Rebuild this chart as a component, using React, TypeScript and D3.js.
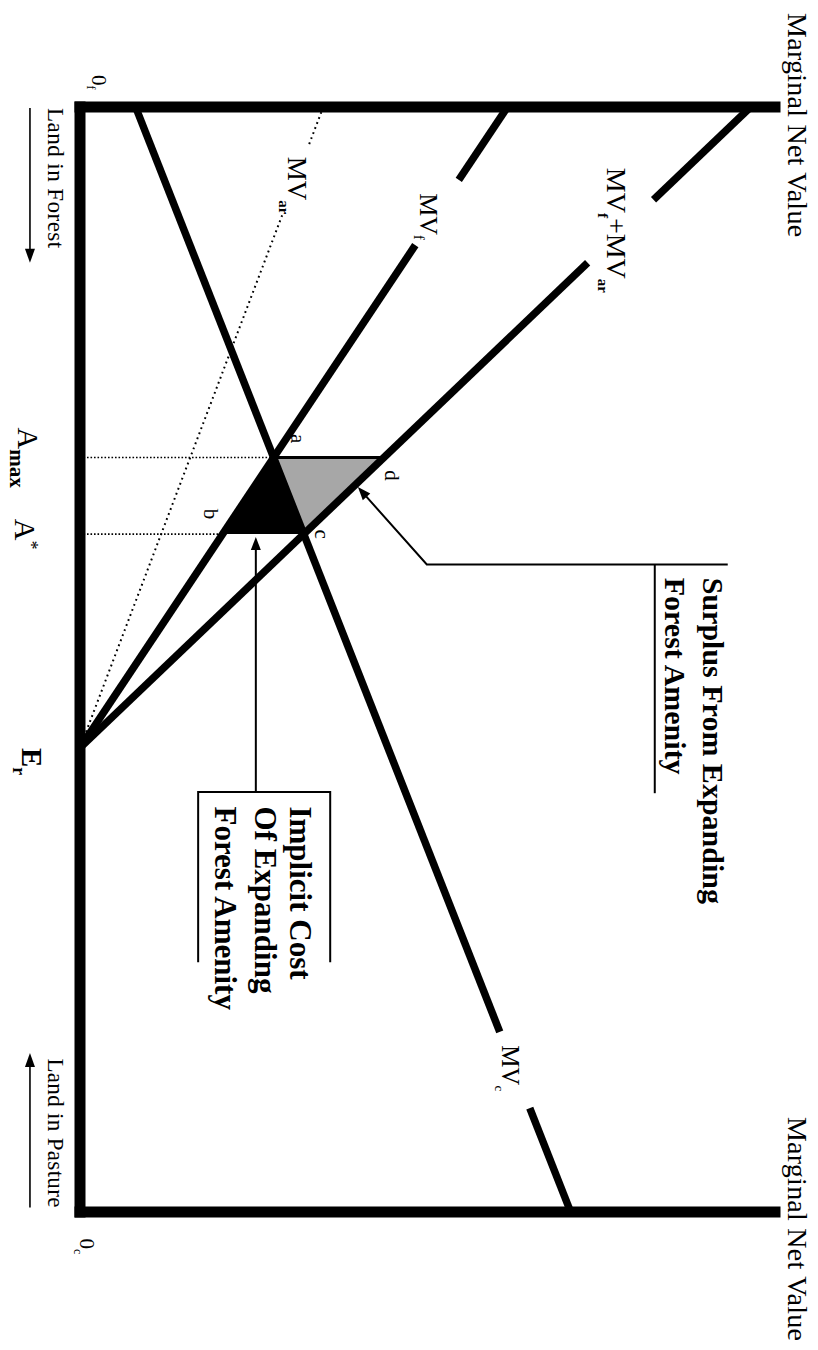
import React, { useEffect, useRef } from 'react'
import * as d3 from 'd3'

const W = 818
const H = 1350

// land runs from 0 (all in forest) to 100 (all in pasture), value is marginal net value
const landDomain = [0, 100]
const valueDomain = [0, 100]

// each curve as two end points [land, value]
const mvC = [[0, 8], [100, 70.6]]
const mvF = [[0, 61.5], [58, 0]]
const mvAr = [[0, 35], [58, 0]]
const mvSum = [[0, 96.5], [58, 0]]

// breaks left in the curves where their labels sit
const gapC = [83.7, 90.6]
const gapF = [6.6, 12.5]
const gapSum = [8.4, 14.1]
const gapAr = [3.6, 9.8]

// where the surplus arrow touches MVf+MVar
const surplusArrowLand = 34.4

const surplusLines = ['Surplus From Expanding', 'Forest Amenity']
const costLines = ['Implicit Cost', 'Of Expanding', 'Forest Amenity']

const SERIF = '"Liberation Serif", "Times New Roman", serif'

type Pt = [number, number]

function valAt(line: number[][], lx: number) {
  const [[x0, y0], [x1, y1]] = line
  return y0 + (y1 - y0) * (lx - x0) / (x1 - x0)
}

function crossing(l1: number[][], l2: number[][]) {
  // both lines are straight, so solve for the land value where they meet
  const s1 = (l1[1][1] - l1[0][1]) / (l1[1][0] - l1[0][0])
  const s2 = (l2[1][1] - l2[0][1]) / (l2[1][0] - l2[0][0])
  const b1 = l1[0][1] - s1 * l1[0][0]
  const b2 = l2[0][1] - s2 * l2[0][0]
  return (b2 - b1) / (s1 - s2)
}

export default function App() {
  const ref = useRef<SVGSVGElement>(null)

  useEffect(() => {
    const node = ref.current
    if (!node) return
    const svg = d3.select(node)
    svg.selectAll('*').remove()

    svg.append('rect').attr('width', W).attr('height', H).attr('fill', '#fff')

    // the figure is drawn upright, then turned a quarter turn clockwise like the scan
    const g = svg.append('g')
      .attr('transform', `translate(${W},0) rotate(90)`)
      .style('font-family', SERIF)

    const x = d3.scaleLinear().domain(landDomain).range([107, 1212])
    const y = d3.scaleLinear().domain(valueDomain).range([738, 43])

    const line = d3.line<Pt>().x(d => x(d[0])).y(d => y(d[1]))

    const pieces = (l: number[][], gap: number[]) => {
      const a = l[0][0], b = l[1][0]
      return [[a, gap[0]], [gap[1], b]].map(([s, e]) => [[s, valAt(l, s)], [e, valAt(l, e)]] as Pt[])
    }

    const aX = crossing(mvC, mvF)
    const cX = crossing(mvC, mvSum)
    const pa: Pt = [aX, valAt(mvF, aX)]
    const pb: Pt = [cX, valAt(mvF, cX)]
    const pc: Pt = [cX, valAt(mvSum, cX)]
    const pd: Pt = [aX, valAt(mvSum, aX)]
    const px = (p: Pt) => [x(p[0]), y(p[1])]

    // shaded areas
    g.append('path')
      .attr('d', 'M' + [pa, pd, pc].map(px).join('L') + 'Z')
      .attr('fill', '#a7a7a7')
    g.append('path')
      .attr('d', 'M' + [pa, pb, pc].map(px).join('L') + 'Z')
      .attr('fill', '#000')
    g.append('line')
      .attr('x1', x(pa[0])).attr('y1', y(pa[1]))
      .attr('x2', x(pd[0])).attr('y2', y(pd[1]))
      .attr('stroke', '#000').attr('stroke-width', 3)

    // dotted guides down to the land axis
    ;[pa, pb].forEach(p => {
      g.append('line')
        .attr('x1', x(p[0])).attr('y1', y(0))
        .attr('x2', x(p[0])).attr('y2', y(p[1]))
        .attr('stroke', '#000').attr('stroke-width', 1.6)
        .attr('stroke-dasharray', '1.6 1.9')
    })

    // MVar dotted
    pieces(mvAr, gapAr).forEach(seg => {
      g.append('path').attr('d', line(seg))
        .attr('fill', 'none').attr('stroke', '#000')
        .attr('stroke-width', 2).attr('stroke-dasharray', '1.8 3.6')
    })

    // heavy curves
    ;[[mvC, gapC], [mvF, gapF], [mvSum, gapSum]].forEach(([l, gap]) => {
      pieces(l, gap).forEach(seg => {
        g.append('path').attr('d', line(seg))
          .attr('fill', 'none').attr('stroke', '#000').attr('stroke-width', 7.5)
      })
    })

    // frame: land axis and the two value axes
    const axis = (x1: number, y1: number, x2: number, y2: number) =>
      g.append('line').attr('x1', x1).attr('y1', y1).attr('x2', x2).attr('y2', y2)
        .attr('stroke', '#000').attr('stroke-width', 11).attr('stroke-linecap', 'square')
    axis(x(0), y(0), x(100), y(0))
    axis(x(0), y(0), x(0), y(100))
    axis(x(100), y(0), x(100), y(100))

    const arrowHead = (tip: number[], from: number[], len = 13, wid = 5) => {
      const dx = tip[0] - from[0], dy = tip[1] - from[1]
      const n = Math.hypot(dx, dy)
      const ux = dx / n, uy = dy / n
      const bx = tip[0] - ux * len, by = tip[1] - uy * len
      g.append('path')
        .attr('d', `M${tip[0]},${tip[1]}L${bx - uy * wid},${by + ux * wid}L${bx + uy * wid},${by - ux * wid}Z`)
        .attr('fill', '#000')
    }
    const thin = (pts: number[][], w = 2) =>
      g.append('path').attr('d', 'M' + pts.map(p => p.join(',')).join('L'))
        .attr('fill', 'none').attr('stroke', '#000').attr('stroke-width', w)

    // text helper: parts are [text, size, dy, bold]
    const label = (tx: number, ty: number, parts: [string, number, number, boolean][], anchor = 'start') => {
      const t = g.append('text').attr('x', tx).attr('y', ty).attr('text-anchor', anchor).attr('fill', '#000')
      parts.forEach(([s, size, dy, bold]) => {
        t.append('tspan').attr('dy', dy).attr('font-size', size)
          .attr('font-weight', bold ? 'bold' : 'normal').text(s)
      })
      return t
    }

    // origins
    label(x(-2.9), y(1.7), [['0', 21, 0, false], ['f', 12, 5, false]])
    label(x(102.4), y(0), [['0', 21, 0, false], ['c', 12, 6, false]])

    // direction arrows along the land axis
    label(x(0.1), y(-4.6), [['Land in Forest', 23, 0, false]]).attr('textLength', 140)
    thin([[x(0.1), y(-7.2)], [x(14.1) - 10, y(-7.2)]], 1.6)
    arrowHead([x(14.1), y(-7.2)], [x(0), y(-7.2)], 14, 5)
    label(x(86.1), y(-4.6), [['Land in Pasture', 23, 0, false]]).attr('textLength', 149)
    thin([[x(99.6), y(-7.2)], [x(85.6) + 10, y(-7.2)]], 1.6)
    arrowHead([x(85.6), y(-7.2)], [x(100), y(-7.2)], 14, 5)

    // value axis titles
    label(x(-8.5), y(101.9), [['Marginal Net Value', 28, 0, false]]).attr('textLength', 224)
    label(x(91.4), y(101.9), [['Marginal Net Value', 28, 0, false]]).attr('textLength', 224)

    // curve labels
    label(x(7.8), y(48.9), [['MV', 26, 0, false], ['f', 14, 6, false]])
    label(x(4.5), y(29.9), [['MV', 27, 0, false], ['ar', 15, 9, true]])
    label(x(5.5), y(75.8), [['MV', 28, 0, false], ['f', 15, 9, true], ['+MV', 28, -9, false], ['ar', 15, 9, true]])
    label(x(84.9), y(60.7), [['MV', 25, 0, false], ['c', 13, 7, false]])

    // land markers
    label(x(aX), y(-8.9), [['A', 30, 0, false], ['max', 21, 8, true]], 'middle')
    label(x(cX), y(-9.3), [['A', 30, 0, false], ['*', 18, -10, false]], 'middle')
    label(x(58), y(-8.3), [['E', 29, 0, true], ['r', 18, 9, true]])

    // corner letters
    const corner = (p: Pt, du: number, dv: number, s: string) =>
      g.append('text').attr('x', x(p[0]) + du).attr('y', y(p[1]) + dv)
        .attr('text-anchor', 'middle').attr('dominant-baseline', 'central')
        .attr('font-size', 21).text(s)
    corner(pa, -19, -24, 'a')
    corner(pb, -20, 12, 'b')
    corner(pc, 0, -18, 'c')
    corner(pd, 18, -8, 'd')

    // surplus call-out
    surplusLines.forEach((s, i) => {
      label(x(42.6), y([89.6, 84.2][i]), [[s, 30, 0, true]])
    })
    thin([[x(41.4), y(82.7)], [x(62.1), y(82.7)]])
    const sTip = [x(surplusArrowLand), y(valAt(mvSum, surplusArrowLand)) - 5]
    const sFrom = [x(41.4), y(49.9)]
    thin([[x(41.4), y(93.2)], sFrom, [sTip[0] + (sFrom[0] - sTip[0]) * 0.12, sTip[1] + (sFrom[1] - sTip[1]) * 0.12]])
    arrowHead(sTip, sFrom, 13, 5)

    // implicit cost call-out
    costLines.forEach((s, i) => {
      label(x(63.3), y([30.2, 25.2, 19.4][i]), [[s, 31, 0, true]])
    })
    thin([[x(77.4), y(36)], [x(62), y(36)], [x(62), y(17)], [x(77.4), y(17)]])
    const cTip = [x(cX) + 3, y(25.3)]
    thin([[x(62), y(25.3)], [cTip[0] + 10, cTip[1]]])
    arrowHead(cTip, [x(62), y(25.3)], 13, 5)
  }, [])

  return (
    <svg ref={ref} width={W} height={H}
      style={{ position: 'absolute', left: 0, top: 0, display: 'block' }} />
  )
}
